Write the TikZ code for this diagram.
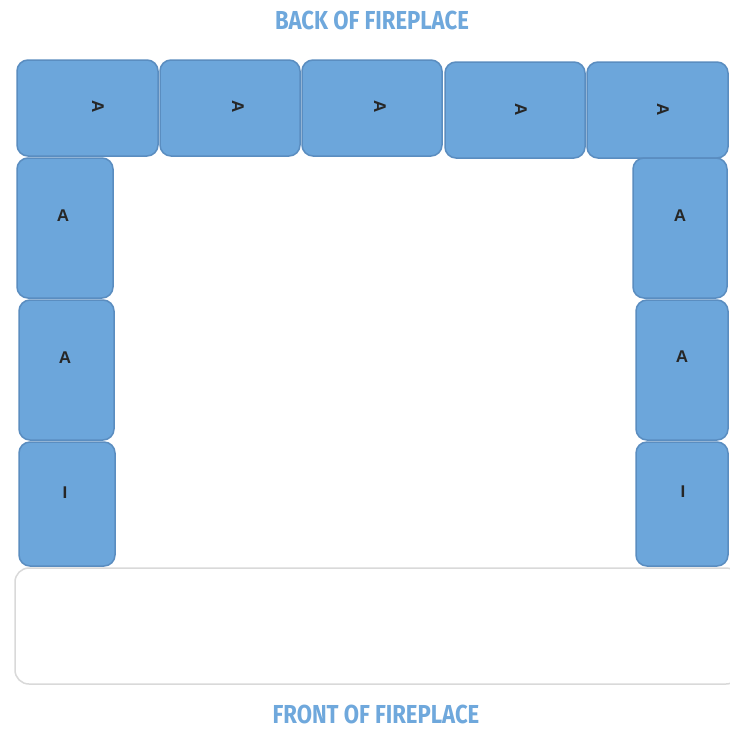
\documentclass[tikz,border=0pt]{standalone}
\usepackage{fontspec}
\usepackage{tikz}
\newfontfamily\brickfont{Liberation Sans}
\newfontfamily\signfont{Fira Sans}[FakeStretch=0.85]
\definecolor{brickblue}{HTML}{6CA6DB}
\definecolor{brickedge}{HTML}{5A8DC0}
\definecolor{signblue}{HTML}{6FA8DC}

\begin{document}
\begin{tikzpicture}[x=1pt,y=-1pt]
  \tikzstyle{brick}=[draw=brickedge,fill=brickblue,line width=1.5pt,rounded corners=11pt,inner sep=0pt]
  \tikzstyle{tag}=[font=\brickfont\bfseries\fontsize{17}{17}\selectfont,text=black!85,inner sep=0pt]
  \tikzstyle{sign}=[font=\signfont\bfseries\fontsize{26}{26}\selectfont,text=signblue,inner sep=0pt]
  \useasboundingbox[fill=white] (0,0) rectangle (730,729);

  \node[brick,minimum width=141pt,minimum height=96pt] (T1) at (87.5,108) {};
  \node[brick,minimum width=140pt,minimum height=96pt] (T2) at (230,108)  {};
  \node[brick,minimum width=140pt,minimum height=96pt] (T3) at (372,108)  {};
  \node[brick,minimum width=140pt,minimum height=96pt] (T4) at (515,110)  {};
  \node[brick,minimum width=141pt,minimum height=96pt] (T5) at (657.5,110) {};

  \node[brick,minimum width=96pt,minimum height=140pt] (L1) at (65,228)   {};
  \node[brick,minimum width=95pt,minimum height=140pt] (L2) at (66.5,370) {};
  \node[brick,minimum width=96pt,minimum height=124pt] (L3) at (67,504)   {};
  \node[brick,minimum width=94pt,minimum height=140pt] (R1) at (680,228)  {};
  \node[brick,minimum width=92pt,minimum height=140pt] (R2) at (682,370)  {};
  \node[brick,minimum width=92pt,minimum height=124pt] (R3) at (682,504)  {};

  \node[draw=black!15,fill=white,line width=1.5pt,rounded corners=14pt,
        minimum width=725pt,minimum height=116pt] (hearth) at (377.5,626) {};

  \node[tag,rotate=-90] (a1) at (98,107)  {A};
  \node[tag,rotate=-90] (a2) at (238,107) {A};
  \node[tag,rotate=-90] (a3) at (380,107) {A};
  \node[tag,rotate=-90] (a4) at (521,110) {A};
  \node[tag,rotate=-90] (a5) at (663,110) {A};
  \node[tag] (l1) at (63,216)  {A};
  \node[tag] (l2) at (65,358)  {A};
  \node[tag] (l3) at (65,493)  {I};
  \node[tag] (r1) at (680,216) {A};
  \node[tag] (r2) at (682,357) {A};
  \node[tag] (r3) at (683,492) {I};

  \node[sign] (back)  at (372,20.5) {BACK OF FIREPLACE};
  \node[sign] (front) at (376,714)  {FRONT OF FIREPLACE};
\end{tikzpicture}
\end{document}
